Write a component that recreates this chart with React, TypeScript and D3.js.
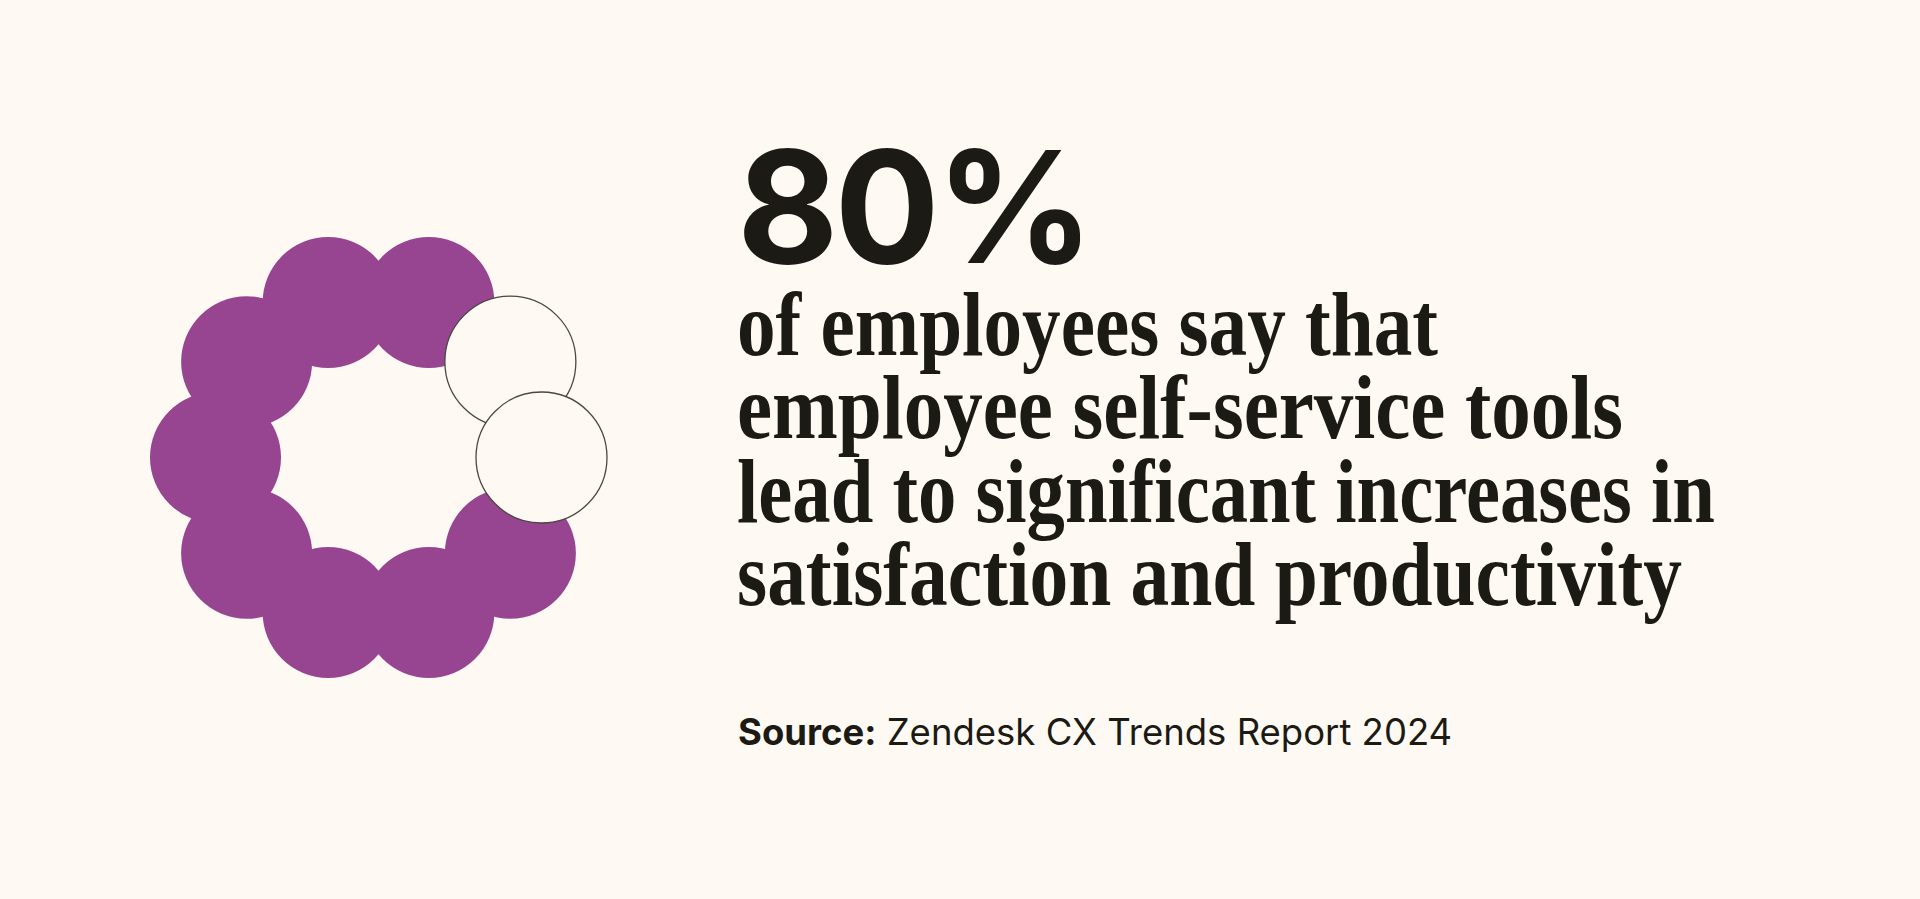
import React from "react";
import * as d3 from "d3";

// ---- data ----
const shareValues = [80, 20]; // agree, other (percent)
const shareLabels = ["Agree", "Other"];
const dotCount = 10;
const headline = "80%";
const bodyLines = [
  "of employees say that",
  "employee self-service tools",
  "lead to significant increases in",
  "satisfaction and productivity",
];
const bodyLineWidths = [701, 886, 978, 945];
const sourceBold = "Source:";
const sourceText = "Zendesk CX Trends Report 2024";

const W = 1920;
const H = 899;
const BG = "#fefaf3";
const PURPLE = "#984591";
const INK = "#1c1a15";

export default function App() {
  const cx = 378.5;
  const cy = 457.5;
  const R = 163;
  const r = 65.5;

  const filledCount = Math.round((shareValues[0] / d3.sum(shareValues)) * dotCount);
  // angle scale: dot index -> angle (radians), counterclockwise from east
  const angle = d3.scaleLinear().domain([0, dotCount]).range([0, 2 * Math.PI]);

  const dots = d3.range(dotCount).map((i) => {
    const a = angle(i);
    return {
      i,
      x: cx + R * Math.cos(a),
      y: cy - R * Math.sin(a),
      filled: i >= dotCount - filledCount,
    };
  });
  const filled = dots.filter((d) => d.filled);
  const empty = dots.filter((d) => !d.filled).sort((a, b) => b.i - a.i);

  const lineY = d3.scaleLinear().domain([0, 1]).range([354.5, 438]);

  return (
    <svg
      width={W}
      height={H}
      style={{ position: "absolute", left: 0, top: 0, background: BG }}
    >
      <rect x={0} y={0} width={W} height={H} fill={BG} />
      <g>
        {filled.map((d) => (
          <circle key={d.i} cx={d.x} cy={d.y} r={r} fill={PURPLE}>
            <title>{shareLabels[0]}</title>
          </circle>
        ))}
        {empty.map((d) => (
          <circle
            key={d.i}
            cx={d.x}
            cy={d.y}
            r={r}
            fill={BG}
            stroke="#4a4843"
            strokeWidth={1.3}
          >
            <title>{shareLabels[1]}</title>
          </circle>
        ))}
      </g>
      <text
        x={737}
        y={263}
        fontFamily="Inter"
        fontWeight={700}
        fontSize={156}
        fill={INK}
        letterSpacing={-4}
      >
        {headline}
      </text>
      {bodyLines.map((t, i) => (
        <text
          key={i}
          x={737}
          y={lineY(i)}
          fontFamily="'Liberation Serif'"
          fontWeight={700}
          fontSize={90}
          fill={INK}
          textLength={bodyLineWidths[i]}
          lengthAdjust="spacingAndGlyphs"
        >
          {t}
        </text>
      ))}
      <text x={738} y={745} fontFamily="Inter" fontSize={36.5} fill={INK}>
        <tspan fontWeight={700}>{sourceBold}</tspan>
        <tspan> {sourceText}</tspan>
      </text>
    </svg>
  );
}
